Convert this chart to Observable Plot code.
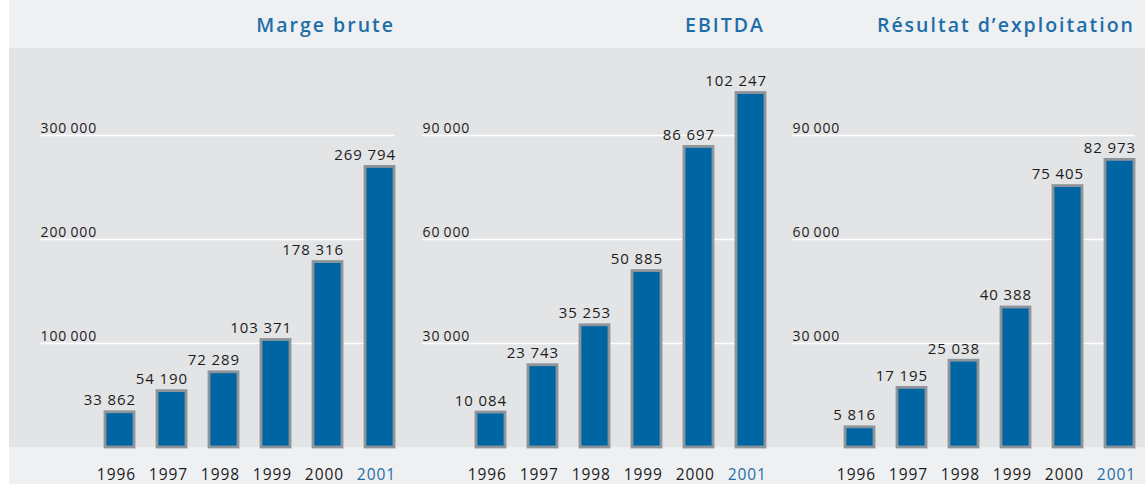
<!DOCTYPE html>
<html>
<head>
<meta charset="utf-8">
<script src="https://cdn.jsdelivr.net/npm/d3@7"></script>
<script src="https://cdn.jsdelivr.net/npm/@observablehq/plot@0.6"></script>
<style>
  html, body { margin: 0; padding: 0; background: #ffffff; }
  #page { position: relative; width: 1145px; height: 484px; overflow: hidden; }
  #bg { position: absolute; left: 9px; top: 0; width: 1136px; height: 484px; background: #eff0f2; }
  #band { position: absolute; left: 9px; top: 48px; width: 1136px; height: 399px; background: #e3e4e6; }
  .title { position: absolute; top: 11px; font-family: "Open Sans", sans-serif; font-size: 19.5px; font-weight: 600;
           color: #1d6ea8; letter-spacing: 2px; white-space: nowrap; text-align: right; line-height: 27px; }
  .panel { position: absolute; top: 48px; }
  .panel svg { overflow: visible; background: transparent !important; }
</style>
</head>
<body>
<div id="page">
  <div id="bg"></div>
  <div id="band"></div>
</div>
<script>
const years = [1996, 1997, 1998, 1999, 2000, 2001];
const margeBrute = [33862, 54190, 72289, 103371, 178316, 269794];
const ebitda = [10084, 23743, 35253, 50885, 86697, 102247];
const resultat = [5816, 17195, 25038, 40388, 75405, 82973];
const titles = ["Marge brute", "EBITDA", "Résultat d\u2019exploitation"];
const ticks1 = [100000, 200000, 300000];
const ticks2 = [30000, 60000, 90000];
const ticks3 = [30000, 60000, 90000];

const fmt = d3.formatLocale({decimal: ",", thousands: "\u2009", grouping: [3], currency: ["", " €"]}).format(",d");
const fmtVal = d3.formatLocale({decimal: ",", thousands: " ", grouping: [3], currency: ["", " €"]}).format(",d");

const panels = [
  {title: titles[0], values: margeBrute, ticks: ticks1, left: 40, width: 355, ml: 64},
  {title: titles[1], values: ebitda, ticks: ticks2, left: 422, width: 343, ml: 53},
  {title: titles[2], values: resultat, ticks: ticks3, left: 792, width: 343, ml: 52}
];

const page = document.getElementById("page");
const blue = "#0066a3";
const dark = "#1c1c1c";
const padIn = 0.445;

for (const p of panels) {
  const data = years.map((y, i) => ({year: y, value: p.values[i]}));
  const step = (p.width - p.ml) / (years.length - padIn);
  const half = step * (1 - padIn) / 2 + 1.4;
  const chart = Plot.plot({
    width: p.width,
    height: 436,
    marginLeft: p.ml,
    marginRight: 0,
    marginTop: 87,
    marginBottom: 37,
    style: {background: "transparent", fontFamily: "Open Sans, sans-serif", overflow: "visible", fontWeight: 500},
    x: {type: "band", domain: years, paddingInner: padIn, paddingOuter: 0, axis: null},
    y: {domain: [0, p.ticks[p.ticks.length - 1]], axis: null},
    marks: [
      Plot.ruleY(p.ticks, {y: d => d, stroke: "#ffffff", strokeWidth: 1.5, insetLeft: -p.ml}),
      Plot.text(p.ticks, {y: d => d, text: d => fmt(d), frameAnchor: "left", dx: -p.ml, dy: -2.5,
        textAnchor: "start", lineAnchor: "bottom", fontSize: 14, fill: dark}),
      Plot.barY(data, {x: "year", y: "value", fill: blue, stroke: "#8d949a", strokeWidth: 2.8}),
      Plot.text(data, {x: "year", y: "value", text: d => fmtVal(d.value), dx: half, dy: -7,
        textAnchor: "end", lineAnchor: "bottom", fontSize: 15, fill: dark}),
      Plot.text(data.filter(d => d.year !== 2001), {x: "year", y: 0, text: d => String(d.year), dx: half, dy: 28,
        textAnchor: "end", fontSize: 15.5, fill: dark}),
      Plot.text(data.filter(d => d.year === 2001), {x: "year", y: 0, text: d => String(d.year), dx: half, dy: 28,
        textAnchor: "end", fontSize: 15.5, fill: "#1d6ea8"})
    ]
  });
  chart.querySelectorAll("text").forEach(t => t.setAttribute("letter-spacing", "0.9"));
  const div = document.createElement("div");
  div.className = "panel";
  div.style.left = p.left + "px";
  div.style.width = p.width + "px";
  div.appendChild(chart);
  page.appendChild(div);

  const t = document.createElement("div");
  t.className = "title";
  t.textContent = p.title;
  t.style.right = (1145 - (p.left + p.width)) + "px";
  page.appendChild(t);
}
</script>
</body>
</html>
